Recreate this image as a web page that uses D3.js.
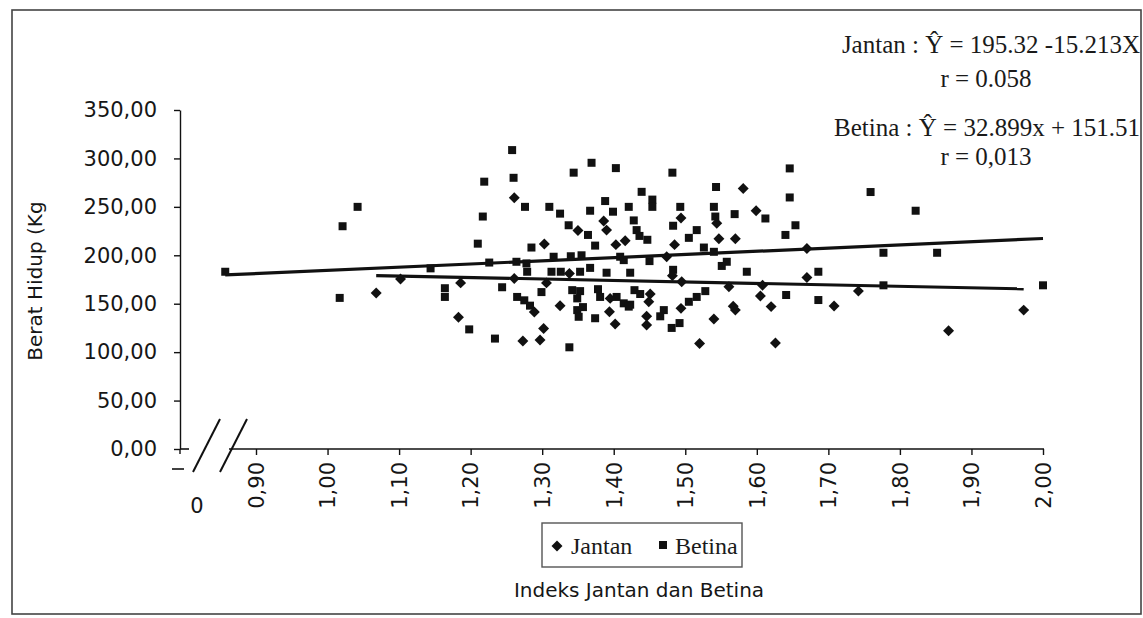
<!DOCTYPE html>
<html>
<head>
<meta charset="utf-8">
<script src="https://cdn.jsdelivr.net/npm/d3@7"></script>
<style>
  body { margin: 0; background: #fff; }
  svg { display: block; }
</style>
</head>
<body>
<svg id="chart" width="1143" height="618"></svg>
<script>
// ---- data -------------------------------------------------------------
const yTicks = [0, 50, 100, 150, 200, 250, 300, 350];
const xTicks = [0.9, 1.0, 1.1, 1.2, 1.3, 1.4, 1.5, 1.6, 1.7, 1.8, 1.9, 2.0];

const seriesNames = ["Jantan", "Betina"];

// Jantan (diamonds): index, live weight (kg)
const jantanX = [1.068, 1.261, 1.303, 1.102, 1.186, 1.261, 1.306, 1.289, 1.183, 1.273,
  1.297, 1.302, 1.386, 1.390, 1.350, 1.416, 1.403, 1.485, 1.494, 1.474,
  1.338, 1.482, 1.395, 1.451, 1.449, 1.325, 1.394, 1.402, 1.446, 1.446,
  1.494, 1.540, 1.520, 1.581, 1.544, 1.599, 1.547, 1.570, 1.670, 1.670,
  1.608, 1.605, 1.567, 1.570, 1.620, 1.708, 1.742, 1.626, 1.868, 1.973,
  1.561, 1.495];
const jantanY = [161, 259.5, 211.6, 175.5, 171.5, 176, 171.5, 141.5, 136, 111.5,
  112.5, 124.5, 235.5, 226, 225.5, 215, 211, 211, 238.5, 198.5,
  181.3, 179, 155.5, 160, 152, 148, 141.7, 129, 137, 128,
  145.2, 134.3, 109, 269, 233, 246, 217, 217, 207, 177,
  169, 158, 147.5, 143.4, 147, 147.6, 163, 109.5, 122, 143.4,
  167.5, 172.7];

// Betina (squares): index, live weight (kg)
const betinaX = [0.857, 1.042, 1.021, 1.017, 1.258, 1.219, 1.260, 1.276, 1.310, 1.217,
  1.210, 1.285, 1.144, 1.226, 1.264, 1.278, 1.279, 1.164, 1.164, 1.244,
  1.265, 1.275, 1.283, 1.299, 1.198, 1.234, 1.369, 1.344, 1.403, 1.482,
  1.543, 1.439, 1.454, 1.454, 1.325, 1.388, 1.367, 1.399, 1.421, 1.493,
  1.540, 1.542, 1.428, 1.483, 1.337, 1.364, 1.374, 1.432, 1.436, 1.447,
  1.516, 1.505, 1.526, 1.316, 1.340, 1.355, 1.450, 1.409, 1.414, 1.313,
  1.326, 1.353, 1.367, 1.390, 1.423, 1.483, 1.342, 1.353, 1.349, 1.378,
  1.381, 1.429, 1.437, 1.414, 1.423, 1.349, 1.357, 1.351, 1.374, 1.470,
  1.465, 1.505, 1.516, 1.528, 1.481, 1.492, 1.338, 1.646, 1.759, 1.646,
  1.569, 1.612, 1.654, 1.640, 1.540, 1.558, 1.551, 1.586, 1.686, 1.641,
  1.686, 1.777, 1.852, 1.777, 2.000, 1.822, 1.404, 1.421];
const betinaY = [183, 250, 230, 156, 308.6, 276, 280, 250, 250, 240,
  212, 208, 186.5, 192.5, 193.3, 191.6, 183, 166, 157, 167,
  157, 153.5, 148, 162, 123.5, 114, 295.5, 285.3, 290, 285.3,
  270.5, 265.5, 257.5, 250, 243, 256, 246, 245, 250, 250,
  250, 240, 236, 230.5, 231, 221, 210, 226, 220, 216,
  226, 218, 208, 198.5, 199, 200, 194, 198.5, 195, 183,
  183, 183, 187, 182, 182, 185, 164, 163, 155.5, 165,
  157, 164, 160, 150.4, 149, 143.4, 146.5, 136.5, 135, 143.4,
  137, 152, 157, 163, 125, 130, 105, 289.7, 265.3, 259.7,
  242.5, 238, 231, 221, 203.6, 193.3, 189, 183, 183, 159,
  153.8, 202.6, 202.6, 169, 169, 246, 157, 147];

// regression coefficients [intercept, slope]
const jantanCoef = [195.32, -15.213];
const betinaCoef = [151.51, 32.899];

const equationLines = [
  "Jantan : \u0176 = 195.32 -15.213X",
  "r = 0.058",
  "Betina : \u0176 = 32.899x + 151.51",
  "r = 0,013"
];

const xTitle = "Indeks Jantan dan Betina";
const yTitle = "Berat Hidup (Kg";

// ---- drawing ----------------------------------------------------------
const svg = d3.select("#chart");
const ink = "#111";
const textInk = "#161616";
const sansFont = "'DejaVu Sans', sans-serif";
const serifFont = "'Liberation Serif', 'Times New Roman', serif";

const x = d3.scaleLinear().domain([0.9, 2.0]).range([256, 1043]);
const y = d3.scaleLinear().domain([0, 350]).range([449, 110]);
const fmt = v => d3.format(".2f")(v).replace(".", ",");

// outer frame
svg.append("rect")
  .attr("x", 12).attr("y", 10).attr("width", 1129).attr("height", 604)
  .attr("fill", "#fff").attr("stroke", "#444").attr("stroke-width", 1.6);

// y axis
const yAxis = svg.append("g")
  .attr("transform", "translate(180,0)")
  .call(d3.axisLeft(y).tickValues(yTicks).tickFormat(fmt).tickSize(6).tickSizeOuter(0).tickPadding(17));
yAxis.select(".domain").attr("stroke", ink).attr("stroke-width", 1.4);
yAxis.selectAll(".tick line").attr("stroke", ink).attr("stroke-width", 1.4);
yAxis.selectAll(".tick text")
  .attr("font-family", sansFont).attr("font-size", 21).attr("fill", textInk);
// small extension below the origin
svg.append("line").attr("x1", 180).attr("x2", 180).attr("y1", y(0)).attr("y2", y(0) + 5)
  .attr("stroke", ink).attr("stroke-width", 1.4);

// x axis (ticks and labels from the axis generator, domain line drawn separately)
const xAxis = svg.append("g")
  .attr("transform", `translate(0,${y(0)})`)
  .call(d3.axisBottom(x).tickValues(xTicks).tickFormat(fmt).tickSize(6).tickSizeOuter(0));
xAxis.select(".domain").remove();
xAxis.selectAll(".tick line").attr("stroke", ink).attr("stroke-width", 1.4);
xAxis.selectAll(".tick text")
  .attr("transform", "rotate(-90)")
  .attr("text-anchor", "end")
  .attr("x", -13).attr("y", 0).attr("dy", "0.35em")
  .attr("font-family", sansFont).attr("font-size", 21).attr("fill", textInk);

// x axis line with a break near the origin
svg.append("line").attr("x1", 180).attr("x2", 189).attr("y1", y(0)).attr("y2", y(0))
  .attr("stroke", ink).attr("stroke-width", 1.6);
svg.append("line").attr("x1", 229).attr("x2", x(2.0) + 1).attr("y1", y(0)).attr("y2", y(0))
  .attr("stroke", ink).attr("stroke-width", 1.6);
[[193, 220], [220, 247]].forEach(([a, b]) => {
  svg.append("line").attr("x1", a).attr("y1", 472).attr("x2", b).attr("y2", 419)
    .attr("stroke", ink).attr("stroke-width", 2);
});
svg.append("line").attr("x1", 172).attr("x2", 184).attr("y1", 469).attr("y2", 469)
  .attr("stroke", ink).attr("stroke-width", 1.6);
svg.append("text").attr("x", 197).attr("y", 513)
  .attr("text-anchor", "middle").attr("font-family", sansFont).attr("font-size", 21)
  .attr("fill", textInk).text("0");

// axis titles
svg.append("text")
  .attr("transform", "translate(42,281) rotate(-90)")
  .attr("text-anchor", "middle")
  .attr("font-family", sansFont).attr("font-size", 20).attr("fill", textInk)
  .text(yTitle);
svg.append("text")
  .attr("x", 639).attr("y", 597)
  .attr("text-anchor", "middle")
  .attr("font-family", sansFont).attr("font-size", 20).attr("fill", textInk)
  .text(xTitle);

// regression lines
const fitLine = (xs, coef) => {
  const [lo, hi] = d3.extent(xs);
  return [[lo, coef[0] + coef[1] * lo], [hi, coef[0] + coef[1] * hi]];
};
const lineGen = d3.line().x(d => x(d[0])).y(d => y(d[1]));
svg.append("path").attr("d", lineGen(fitLine(betinaX, betinaCoef)))
  .attr("stroke", ink).attr("stroke-width", 3.2).attr("fill", "none");
svg.append("path").attr("d", lineGen(fitLine(jantanX, jantanCoef)))
  .attr("stroke", ink).attr("stroke-width", 3.2).attr("fill", "none");

// markers
const squareSym = d3.symbol(d3.symbolSquare, 64);
const diamondSym = d3.symbol(d3.symbolSquare, 60);

svg.append("g").selectAll("path")
  .data(d3.zip(betinaX, betinaY))
  .join("path")
  .attr("d", squareSym)
  .attr("transform", d => `translate(${x(d[0])},${y(d[1])})`)
  .attr("fill", ink);

svg.append("g").selectAll("path")
  .data(d3.zip(jantanX, jantanY))
  .join("path")
  .attr("d", diamondSym)
  .attr("transform", d => `translate(${x(d[0])},${y(d[1])}) rotate(45)`)
  .attr("fill", ink);

// equations
const eqPos = [[1140, 53, "end"], [986, 87, "middle"], [1140, 136, "end"], [986, 165, "middle"]];
equationLines.forEach((t, i) => {
  svg.append("text")
    .attr("x", eqPos[i][0]).attr("y", eqPos[i][1]).attr("text-anchor", eqPos[i][2])
    .attr("font-family", serifFont).attr("font-size", 25).attr("fill", "#1a1a1a")
    .text(t);
});

// legend
const lg = svg.append("g");
lg.append("rect").attr("x", 542).attr("y", 523).attr("width", 200).attr("height", 44)
  .attr("fill", "#fff").attr("stroke", "#555").attr("stroke-width", 1.4);
lg.append("path").attr("d", diamondSym).attr("transform", "translate(557,546) rotate(45)").attr("fill", ink);
lg.append("text").attr("x", 571).attr("y", 554).attr("font-family", serifFont)
  .attr("font-size", 24).attr("fill", "#1a1a1a").text(seriesNames[0]);
lg.append("path").attr("d", squareSym).attr("transform", "translate(663,545)").attr("fill", ink);
lg.append("text").attr("x", 675).attr("y", 554).attr("font-family", serifFont)
  .attr("font-size", 24).attr("fill", "#1a1a1a").text(seriesNames[1]);
</script>
</body>
</html>
